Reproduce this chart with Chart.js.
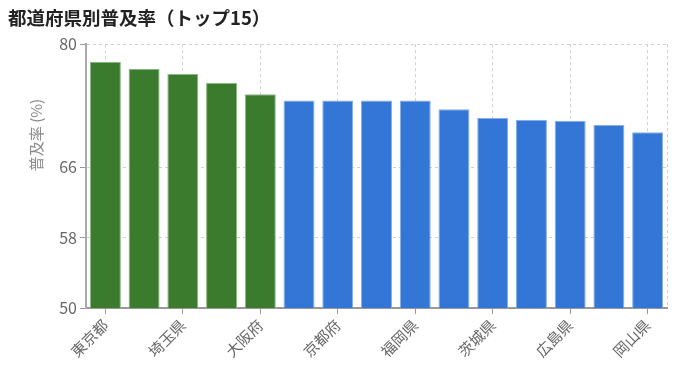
<!DOCTYPE html>
<html>
<head>
<meta charset="utf-8">
<script src="https://cdn.jsdelivr.net/npm/chart.js@4"></script>
<style>
  html, body { margin: 0; padding: 0; background: #fff; }
  #wrap { width: 681px; height: 382px; }
</style>
</head>
<body>
<div id="wrap"><canvas id="myChart" width="681" height="382"></canvas></div>
<script>
// dados
const prefeituras = ['東京都', '神奈川県', '埼玉県', '千葉県', '大阪府', '愛知県', '京都府', '兵庫県', '福岡県', '静岡県', '茨城県', '栃木県', '広島県', '宮城県', '岡山県'];
const taxas = [78.0, 77.2, 76.6, 75.6, 74.3, 73.6, 73.6, 73.6, 73.6, 72.6, 71.6, 71.4, 71.3, 70.8, 70.0];
const ticksY = [50, 58, 66, 80];
const qtdDestaque = 5;

const fonte = '"Noto Sans CJK JP", "Noto Sans", sans-serif';
const cinza = '#666';

// linha tracejada da borda direita + titulo do eixo y
const extras = {
  id: 'extras',
  afterDraw(chart) {
    const c = chart.ctx, a = chart.chartArea;
    c.save();
    c.strokeStyle = '#cccccc';
    c.lineWidth = 1;
    c.setLineDash([3, 3]);
    c.beginPath();
    c.moveTo(a.right + 0.5, a.top);
    c.lineTo(a.right + 0.5, a.bottom);
    c.stroke();
    c.setLineDash([]);
    c.translate(36, 135);
    c.rotate(-Math.PI / 2);
    c.fillStyle = '#8a8a8a';
    c.font = '15px ' + fonte;
    c.textAlign = 'center';
    c.textBaseline = 'middle';
    c.fillText('普及率 (%)', 0, 0);
    c.restore();
  }
};

const ctx = document.getElementById('myChart');

var grafico = new Chart(ctx, {
  type: 'bar',
  data: {
    labels: prefeituras,
    datasets: [{
      data: taxas,
      backgroundColor: taxas.map((v, i) => i < qtdDestaque ? '#3a7b2e' : '#3376d6'),
      borderColor: taxas.map((v, i) => i < qtdDestaque ? '#8ab880' : '#86aeea'),
      borderWidth: 1,
      barPercentage: 1,
      categoryPercentage: 0.8
    }]
  },
  plugins: [extras],
  options: {
    responsive: false,
    animation: false,
    layout: { padding: { left: 8, right: 14, top: 0, bottom: 0 } },
    plugins: {
      legend: { display: false },
      tooltip: { enabled: false },
      title: {
        display: true,
        text: '都道府県別普及率（トップ15）',
        align: 'start',
        color: '#222',
        font: { family: fonte, size: 18.5, weight: 'bold' },
        padding: { top: 7, bottom: 15 }
      }
    },
    scales: {
      x: {
        offset: true,
        afterFit: s => { s.height = 74; },
        border: { color: '#999', width: 2, dash: [3, 3] },
        grid: {
          offset: false,
          color: '#d0d0d0',
          tickBorderDash: [0, 0],
          tickColor: '#999',
          tickLength: 6
        },
        ticks: {
          autoSkip: false,
          minRotation: 45,
          maxRotation: 45,
          color: cinza,
          padding: 2,
          font: { family: fonte, size: 15 },
          callback: function (v, i) { return i % 2 === 0 ? this.getLabelForValue(v) : null; }
        }
      },
      y: {
        min: 50,
        max: 80,
        afterFit: s => { s.width = 78; },
        afterBuildTicks: s => { s.ticks = ticksY.map(v => ({ value: v })); },
        border: { color: '#aaa', width: 2, dash: [3, 3] },
        grid: {
          color: '#d0d0d0',
          tickBorderDash: [0, 0],
          tickColor: '#999',
          tickLength: 6
        },
        ticks: {
          color: cinza,
          padding: 3,
          font: { family: fonte, size: 16 }
        }
      }
    }
  }
});
</script>
</body>
</html>
